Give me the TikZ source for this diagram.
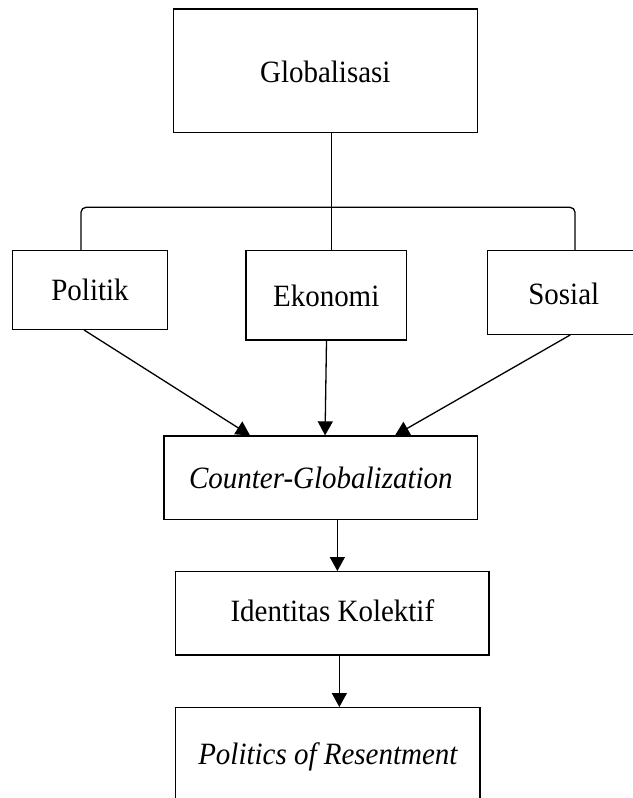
\documentclass[tikz,border=0pt]{standalone}
\usepackage{fontspec}
\setmainfont{Liberation Serif}[FakeStretch=0.935]
\usetikzlibrary{arrows.meta,backgrounds}
\begin{document}
\begin{tikzpicture}[x=1pt,y=-1pt,
  box/.style={draw, line width=1.3pt, fill=white, inner sep=0pt, text depth=0pt,
    font=\fontsize{31}{36}\selectfont},
  link/.style={line width=1.3pt},
  arr/.style={line width=1.3pt, -{Triangle[length=14pt,width=15pt]}}]
\useasboundingbox (0,0) rectangle (632,798);
% boxes
\node[box, minimum width=304pt, minimum height=123.7pt, text height=22.3pt] (glob) at (325.3,70.85) {Globalisasi};
\node[box, minimum width=154.6pt, minimum height=78.6pt, text height=21.4pt] (pol) at (90,290) {Politik};
\node[box, minimum width=160.6pt, minimum height=89.3pt, text height=22.7pt] (eko) at (326.2,295.35) {Ekonomi};
\node[box, minimum width=152.5pt, minimum height=83.6pt, text height=23pt] (sos) at (563.75,292.5) {Sosial};
\node[box, minimum width=313.7pt, minimum height=83.3pt, text height=21.3pt] (cg) at (320.85,477.65) {\itshape Counter-Globalization};
\node[box, minimum width=313.3pt, minimum height=83.3pt, text height=16.7pt] (idk) at (332.35,613.35) {Identitas Kolektif};
\node[box, minimum width=304.3pt, minimum height=92.3pt, text height=20.9pt] (por) at (327.85,753.85) {\itshape Politics of Resentment};
% helper coordinates
\coordinate (stem) at (331.7,0);
\coordinate (legL) at (81,207.3);
\coordinate (legR) at (575,207.3);
\begin{scope}[on background layer]
\draw[link] (glob.south -| stem) -- (eko.north -| stem);
\draw[link, rounded corners=5pt] (pol.north -| legL) -- (legL) -- (legR) -- (sos.north -| legR);
\draw[arr] ([xshift=-6pt]pol.south) -- ([xshift=-70.85pt]cg.north);
\draw[arr] ([xshift=0.3pt]eko.south) -- ([xshift=4.2pt]cg.north);
\draw[arr] ([xshift=6.5pt]sos.south) -- ([xshift=74.2pt]cg.north);
\draw[arr] ([xshift=16.5pt]cg.south) coordinate (c1) -- (c1 |- idk.north);
\draw[arr] ([xshift=7pt]idk.south) coordinate (c2) -- (c2 |- por.north);
\end{scope}
\end{tikzpicture}
\end{document}
